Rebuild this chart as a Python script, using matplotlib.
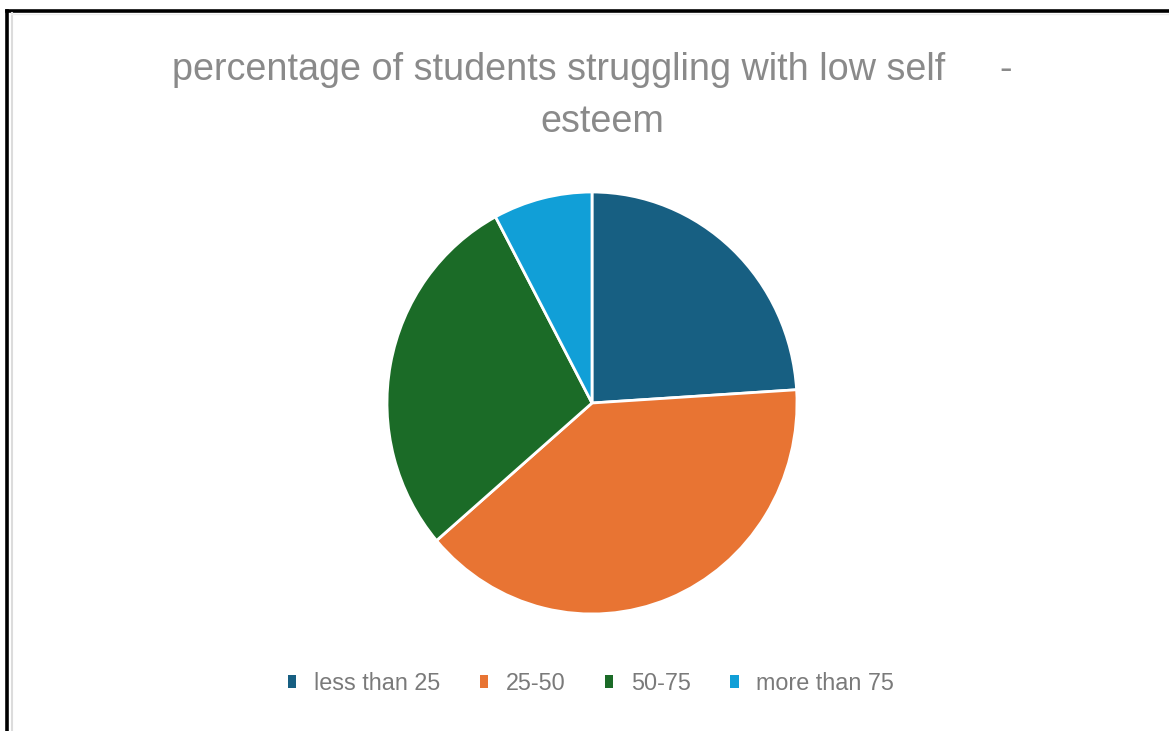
import matplotlib.pyplot as plt
from matplotlib.lines import Line2D
from matplotlib.patches import Patch

# доля студентов по уровню самооценки
categories = ['less than 25', '25-50', '50-75', 'more than 75']
shares = [24, 39.7, 28.5, 7.8]
colors = ['#175f82', '#e87433', '#1b6b27', '#119fd7']

W, H = 1169, 731
fig = plt.figure(figsize=(W / 100, H / 100), dpi=100)
fig.patch.set_facecolor('white')

# рамка вокруг картинки
fig.add_artist(Line2D([6.5 / W, 6.5 / W], [0, 1 - 10.5 / H], color='black', lw=2.6,
                      solid_capstyle='projecting'))
fig.add_artist(Line2D([6.5 / W, 1], [1 - 10.5 / H, 1 - 10.5 / H], color='black', lw=2.6,
                      solid_capstyle='projecting'))
fig.add_artist(Line2D([11.5 / W, 11.5 / W], [0, 1 - 13 / H], color='#dcdcdc', lw=1.5))
fig.add_artist(Line2D([11 / W, 1], [1 - 14 / H, 1 - 14 / H], color='#ececec', lw=1.0))

font = ['Liberation Sans Narrow', 'Liberation Sans', 'DejaVu Sans']

# заголовок
fig.text(172 / W, 1 - 70 / H, 'percentage of students struggling with low self',
         family=font, fontsize=27.2, color='#8a8a8a', ha='left', va='center')
fig.text(1006 / W, 1 - 70 / H, '-', family=font, fontsize=27.2, color='#8a8a8a',
         ha='center', va='center')
fig.text(602 / W, 1 - 122 / H, 'esteem', family=font, fontsize=27.2, color='#8a8a8a',
         ha='center', va='center')

# круговая диаграмма
cx, cy, rx, ry = 592, 403, 205, 211
ax = fig.add_axes([(cx - rx) / W, 1 - (cy + ry) / H, 2 * rx / W, 2 * ry / H])
wedges, _ = ax.pie(shares, colors=colors, startangle=90, counterclock=False,
                   wedgeprops={'edgecolor': 'white', 'linewidth': 2.0})
ax.set_aspect('auto')
ax.set_xlim(-1, 1)
ax.set_ylim(-1, 1)

# легенда: квадратики без белой обводки
handles = [Patch(facecolor=w.get_facecolor(), edgecolor='none') for w in wedges]
leg = fig.legend(handles, categories, loc='center', bbox_to_anchor=(591 / W, 1 - 683 / H),
                 ncol=4, frameon=False, prop={'family': font, 'size': 16.8},
                 labelcolor='#7a7a7a', handlelength=0.36, handleheight=0.5,
                 handletextpad=0.75, columnspacing=1.7)

fig.savefig('out.png', dpi=100, facecolor='white')
